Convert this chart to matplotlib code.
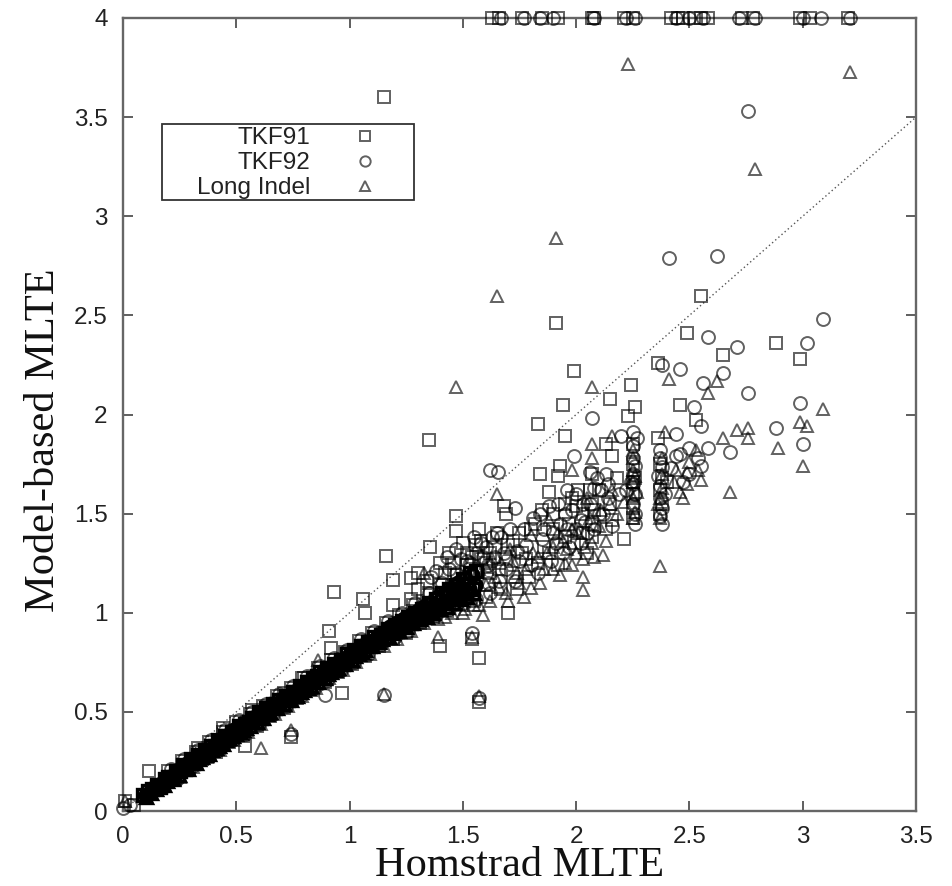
import matplotlib
matplotlib.use("Agg")
import matplotlib.pyplot as plt
from matplotlib.patches import Rectangle
import numpy as np

# values as (Homstrad MLTE, Model-based MLTE)
diag_x = [0, 3.5]
diag_y = [0, 3.5]

x_ticks = [0, 0.5, 1, 1.5, 2, 2.5, 3, 3.5]
x_labels = ["0", "0.5", "1", "1.5", "2", "2.5", "3", "3.5"]
y_ticks = [0, 0.5, 1, 1.5, 2, 2.5, 3, 3.5, 4]
y_labels = ["0", "0.5", "1", "1.5", "2", "2.5", "3", "3.5", "4"]

tkf91_top = [1.63, 1.66, 1.76, 1.85, 1.92, 2.07, 2.08, 2.21, 2.25, 2.42, 2.45, 2.47, 2.52, 2.55, 2.58, 2.73, 2.78, 2.99, 3.03, 3.2]
tkf92_top = [1.67, 1.77, 1.84, 1.9, 2.08, 2.22, 2.26, 2.44, 2.5, 2.56, 2.72, 2.79, 3.0, 3.08, 3.21]

tkf91 = [
    (0.01, 0.05), (0.05, 0.03), (0.115, 0.2), (0.33, 0.32), (0.44, 0.42), (0.54, 0.33), (0.57, 0.51), (0.71, 0.595),
    (0.74, 0.375), (0.79, 0.67), (0.91, 0.91), (0.92, 0.82), (0.965, 0.595), (0.93, 1.105), (1.06, 1.07), (1.07, 1.0),
    (1.16, 1.285), (1.19, 1.165), (1.19, 1.04), (1.27, 1.175), (1.27, 1.07), (1.355, 1.33), (1.35, 1.87), (1.15, 3.6),
    (1.57, 0.77), (1.57, 0.55), (1.54, 0.87), (1.4, 0.83), (1.47, 1.49), (1.47, 1.41), (1.57, 1.42), (1.65, 1.4),
    (1.69, 1.5), (1.68, 1.54), (1.84, 1.7), (1.93, 1.74), (1.92, 1.69), (1.88, 1.61), (2.0, 1.54), (2.08, 1.52),
    (2.16, 1.47), (2.03, 1.4), (2.21, 1.37), (1.83, 1.95), (1.95, 1.89), (1.94, 2.05), (1.91, 2.46), (1.99, 2.22),
    (2.13, 1.85), (2.16, 1.79), (2.15, 2.08), (2.24, 2.15), (2.26, 2.04), (2.23, 1.99), (2.36, 1.88), (2.36, 2.26),
    (2.46, 2.05), (2.49, 2.41), (2.53, 1.97), (2.55, 2.6), (2.65, 2.3), (2.88, 2.36), (2.99, 2.28), (1.7, 1.0),
    (1.6, 1.25), (1.62, 1.3), (1.66, 1.22), (1.7, 1.34), (1.72, 1.18), (1.75, 1.4), (1.78, 1.27), (1.82, 1.45),
    (1.86, 1.33), (1.9, 1.5), (1.95, 1.38), (1.98, 1.58), (2.06, 1.62), (2.07, 1.45), (2.25, 1.66), (2.25, 1.85),
    (2.25, 1.53), (2.37, 1.75), (2.38, 1.55), (2.4, 1.66), (1.3, 1.12), (1.34, 1.16), (1.42, 1.2), (1.46, 1.25),
    (1.52, 1.3), (1.56, 1.34),
]

tkf91_band = [
    (0.09, 0.08), (0.11, 0.10), (0.13, 0.11), (0.15, 0.13), (0.165, 0.12), (0.185, 0.16), (0.2, 0.17), (0.215, 0.17),
    (0.235, 0.2), (0.25, 0.2), (0.265, 0.23), (0.28, 0.22), (0.3, 0.26), (0.315, 0.25), (0.33, 0.28), (0.345, 0.27),
    (0.36, 0.31), (0.375, 0.3), (0.39, 0.33), (0.405, 0.33), (0.42, 0.36), (0.435, 0.35), (0.45, 0.38), (0.465, 0.38),
    (0.48, 0.4), (0.495, 0.4), (0.51, 0.43), (0.525, 0.42), (0.54, 0.44), (0.555, 0.45), (0.57, 0.47), (0.585, 0.47),
    (0.6, 0.5), (0.615, 0.49), (0.63, 0.52), (0.645, 0.51), (0.66, 0.54), (0.675, 0.54), (0.69, 0.56), (0.705, 0.56),
    (0.72, 0.58), (0.735, 0.57), (0.75, 0.6), (0.765, 0.6), (0.78, 0.63), (0.795, 0.62), (0.81, 0.65), (0.825, 0.65),
    (0.84, 0.67), (0.855, 0.68), (0.87, 0.7), (0.885, 0.69), (0.9, 0.72), (0.915, 0.72), (0.93, 0.74), (0.945, 0.73),
    (0.96, 0.76), (0.975, 0.76), (0.99, 0.79), (1.005, 0.78), (1.02, 0.81), (1.035, 0.8), (1.05, 0.83), (1.065, 0.83),
    (1.08, 0.85), (1.095, 0.84), (1.11, 0.88), (1.125, 0.87), (1.14, 0.89), (1.155, 0.9), (1.17, 0.92), (1.185, 0.91),
    (1.2, 0.94), (1.215, 0.93), (1.23, 0.96), (1.245, 0.94), (1.26, 0.98), (1.275, 0.96), (1.29, 1.0), (1.305, 0.97),
    (1.32, 1.02), (1.335, 1.0), (1.35, 1.05), (1.365, 1.02), (1.38, 1.07), (1.395, 1.03), (1.41, 1.1), (1.425, 1.05),
    (1.44, 1.12), (1.455, 1.07), (1.47, 1.14), (1.485, 1.09), (1.5, 1.17), (1.515, 1.1), (1.53, 1.2), (1.545, 1.12),
    (1.56, 1.21),
]

tkf91_cloud = [
    (0.2, 0.2), (0.23, 0.16), (0.26, 0.25), (0.29, 0.21), (0.32, 0.3), (0.35, 0.26), (0.38, 0.35), (0.41, 0.3),
    (0.44, 0.4), (0.47, 0.35), (0.5, 0.45), (0.53, 0.38), (0.56, 0.49), (0.59, 0.43), (0.62, 0.53), (0.65, 0.48),
    (0.68, 0.58), (0.71, 0.52), (0.74, 0.62), (0.77, 0.57), (0.8, 0.67), (0.83, 0.61), (0.86, 0.72), (0.89, 0.65),
    (0.92, 0.76), (0.95, 0.7), (0.98, 0.8), (1.01, 0.74), (1.04, 0.86), (1.07, 0.78), (1.1, 0.9), (1.13, 0.83),
    (1.16, 0.95), (1.19, 0.87), (1.22, 0.99), (1.25, 0.9), (1.28, 1.04), (1.31, 0.95), (1.34, 1.09), (1.37, 0.98),
    (1.4, 1.14), (1.43, 1.01), (1.46, 1.19), (1.49, 1.04), (1.52, 1.24), (1.55, 1.06), (1.58, 1.27), (1.6, 1.08),
    (1.3, 1.2), (1.4, 1.25), (1.44, 1.3), (1.5, 1.35), (1.54, 1.28), (1.58, 1.36), (1.62, 1.2), (1.64, 1.33),
    (1.67, 1.12), (1.69, 1.27), (1.72, 1.36), (1.74, 1.12), (1.76, 1.3), (1.79, 1.18), (1.8, 1.42), (1.83, 1.25),
    (1.85, 1.52), (1.88, 1.3), (1.9, 1.42), (1.92, 1.24), (1.95, 1.55), (1.97, 1.45), (1.99, 1.35), (2.01, 1.62),
    (2.03, 1.5), (2.05, 1.3), (2.07, 1.7), (2.07, 1.55), (2.07, 1.38), (2.1, 1.62), (2.13, 1.42), (2.15, 1.55),
    (2.18, 1.68), (2.25, 1.75), (2.25, 1.6), (2.25, 1.48), (2.26, 1.68), (2.37, 1.62), (2.37, 1.5), (2.38, 1.68),
]

tkf92 = [
    (0.0, 0.015), (0.03, 0.03), (0.74, 0.39), (0.89, 0.585), (1.15, 0.585), (1.38, 1.21), (1.49, 1.27), (1.54, 0.9),
    (1.57, 0.57), (1.58, 1.35), (1.62, 1.72), (1.655, 1.71), (1.61, 1.15), (1.64, 1.28), (1.67, 1.38), (1.69, 1.22),
    (1.73, 1.53), (1.74, 1.31), (1.77, 1.42), (1.8, 1.24), (1.84, 1.5), (1.85, 1.37), (1.88, 1.54), (1.93, 1.45),
    (1.96, 1.62), (1.99, 1.79), (2.0, 1.42), (2.03, 1.55), (2.06, 1.71), (2.07, 1.98), (2.08, 1.63), (2.1, 1.5),
    (2.13, 1.7), (2.14, 1.58), (2.2, 1.89), (2.22, 1.62), (2.25, 1.91), (2.25, 1.78), (2.25, 1.7), (2.26, 1.6),
    (2.27, 1.88), (2.26, 1.5), (2.37, 1.82), (2.38, 2.25), (2.38, 1.735), (2.37, 1.64), (2.38, 1.53), (2.37, 1.49),
    (2.41, 2.79), (2.44, 1.9), (2.44, 1.79), (2.46, 2.23), (2.47, 1.66), (2.5, 1.83), (2.52, 2.04), (2.55, 1.94),
    (2.56, 2.16), (2.54, 1.78), (2.58, 2.39), (2.58, 1.83), (2.62, 2.8), (2.65, 2.21), (2.68, 1.81), (2.71, 2.34),
    (2.76, 2.11), (2.76, 3.53), (2.88, 1.93), (2.99, 2.06), (3.0, 1.85), (3.02, 2.36), (3.09, 2.48), (1.9, 1.4),
    (1.92, 1.55), (1.95, 1.5), (1.97, 1.33), (2.02, 1.47), (2.05, 1.4), (2.11, 1.62), (2.24, 1.66), (2.26, 1.74),
    (2.25, 1.55), (2.36, 1.69), (2.39, 1.6), (1.44, 1.22), (1.52, 1.26), (1.56, 1.3), (1.6, 1.33), (1.65, 1.4),
]

tkf92_band = [
    (0.1, 0.08), (0.12, 0.09), (0.14, 0.12), (0.16, 0.13), (0.175, 0.14), (0.19, 0.15), (0.21, 0.17), (0.225, 0.18),
    (0.24, 0.2), (0.26, 0.21), (0.275, 0.23), (0.29, 0.24), (0.31, 0.25), (0.325, 0.27), (0.34, 0.28), (0.355, 0.29),
    (0.37, 0.31), (0.385, 0.31), (0.4, 0.33), (0.415, 0.34), (0.43, 0.36), (0.445, 0.36), (0.46, 0.38), (0.475, 0.39),
    (0.49, 0.41), (0.505, 0.41), (0.52, 0.42), (0.535, 0.43), (0.55, 0.45), (0.565, 0.45), (0.58, 0.47), (0.595, 0.47),
    (0.61, 0.49), (0.625, 0.5), (0.64, 0.52), (0.655, 0.52), (0.67, 0.54), (0.685, 0.54), (0.7, 0.56), (0.715, 0.57),
    (0.73, 0.58), (0.745, 0.58), (0.76, 0.6), (0.775, 0.61), (0.79, 0.62), (0.805, 0.63), (0.82, 0.65), (0.835, 0.65),
    (0.85, 0.67), (0.865, 0.68), (0.88, 0.69), (0.895, 0.7), (0.91, 0.72), (0.925, 0.72), (0.94, 0.74), (0.955, 0.74),
    (0.97, 0.76), (0.985, 0.77), (1.0, 0.78), (1.015, 0.79), (1.03, 0.81), (1.045, 0.81), (1.06, 0.83), (1.075, 0.83),
    (1.09, 0.85), (1.105, 0.86), (1.12, 0.87), (1.135, 0.88), (1.15, 0.9), (1.165, 0.9), (1.18, 0.93), (1.195, 0.92),
    (1.21, 0.95), (1.225, 0.94), (1.24, 0.97), (1.255, 0.96), (1.27, 0.99), (1.285, 0.97), (1.3, 1.01), (1.315, 0.99),
    (1.33, 1.03), (1.345, 1.01), (1.36, 1.05), (1.375, 1.03), (1.39, 1.08), (1.405, 1.04), (1.42, 1.1), (1.435, 1.06),
    (1.45, 1.12), (1.465, 1.08), (1.48, 1.15), (1.495, 1.1), (1.51, 1.17), (1.525, 1.12), (1.54, 1.19), (1.555, 1.14),
]

tkf92_cloud = [
    (0.21, 0.21), (0.24, 0.16), (0.27, 0.26), (0.3, 0.22), (0.33, 0.31), (0.36, 0.27), (0.39, 0.36), (0.42, 0.31),
    (0.45, 0.41), (0.48, 0.36), (0.51, 0.46), (0.54, 0.39), (0.57, 0.5), (0.6, 0.44), (0.63, 0.54), (0.66, 0.49),
    (0.69, 0.59), (0.72, 0.53), (0.75, 0.63), (0.78, 0.58), (0.81, 0.68), (0.84, 0.62), (0.87, 0.73), (0.9, 0.66),
    (0.93, 0.77), (0.96, 0.71), (0.99, 0.81), (1.02, 0.75), (1.05, 0.87), (1.08, 0.79), (1.11, 0.91), (1.14, 0.84),
    (1.17, 0.96), (1.2, 0.88), (1.23, 1.0), (1.26, 0.91), (1.29, 1.05), (1.32, 0.96), (1.35, 1.1), (1.38, 0.99),
    (1.41, 1.15), (1.44, 1.02), (1.47, 1.2), (1.5, 1.05), (1.53, 1.25), (1.56, 1.07), (1.59, 1.28), (1.62, 1.1),
    (1.36, 1.18), (1.43, 1.28), (1.47, 1.32), (1.55, 1.38), (1.61, 1.24), (1.63, 1.38), (1.66, 1.16), (1.68, 1.3),
    (1.71, 1.42), (1.73, 1.16), (1.75, 1.26), (1.78, 1.34), (1.81, 1.48), (1.83, 1.2), (1.86, 1.42), (1.89, 1.26),
    (1.91, 1.35), (1.94, 1.3), (1.96, 1.42), (1.98, 1.52), (2.0, 1.6), (2.02, 1.35), (2.04, 1.46), (2.06, 1.55),
    (2.08, 1.42), (2.09, 1.68), (2.12, 1.5), (2.14, 1.65), (2.16, 1.44), (2.19, 1.6), (2.25, 1.84), (2.25, 1.65),
    (2.26, 1.45), (2.37, 1.78), (2.37, 1.58), (2.38, 1.45), (2.42, 1.73), (2.46, 1.8), (2.5, 1.7), (2.55, 1.74),
]

long_indel = [
    (0.01, 0.05), (0.61, 0.32), (0.74, 0.41), (0.86, 0.76), (1.15, 0.59), (1.33, 1.2), (1.39, 0.88), (1.47, 2.14),
    (1.47, 1.05), (1.54, 0.88), (1.53, 1.09), (1.57, 0.58), (1.59, 0.99), (1.57, 1.22), (1.6, 1.14), (1.63, 1.27),
    (1.65, 1.6), (1.65, 2.6), (1.66, 1.13), (1.7, 1.06), (1.71, 1.32), (1.74, 1.2), (1.77, 1.08), (1.8, 1.125),
    (1.8, 1.39), (1.83, 1.28), (1.86, 1.22), (1.88, 1.47), (1.91, 2.89), (1.93, 1.19), (1.94, 1.36), (1.98, 1.72),
    (2.0, 1.3), (2.03, 1.27), (2.03, 1.18), (2.03, 1.115), (2.05, 1.58), (2.07, 1.35), (2.07, 1.85), (2.07, 1.78),
    (2.07, 2.14), (2.1, 1.44), (2.12, 1.29), (2.16, 1.89), (2.15, 1.55), (2.21, 1.56), (2.25, 1.66), (2.26, 1.51),
    (2.25, 1.72), (2.27, 1.61), (2.23, 3.77), (2.37, 1.235), (2.37, 1.48), (2.38, 1.63), (2.39, 1.91), (2.41, 2.18),
    (2.46, 1.61), (2.44, 1.72), (2.49, 1.71), (2.49, 1.65), (2.53, 1.82), (2.55, 1.67), (2.58, 2.11), (2.62, 2.17),
    (2.65, 1.88), (2.68, 1.61), (2.71, 1.92), (2.76, 1.93), (2.76, 1.88), (2.79, 3.24), (2.89, 1.83), (2.99, 1.96),
    (3.0, 1.74), (3.02, 1.94), (3.09, 2.03), (3.21, 3.73), (1.9, 1.33), (1.95, 1.25), (1.98, 1.42), (2.25, 1.58),
    (2.25, 1.78), (2.36, 1.55), (2.38, 1.7), (1.42, 0.98), (1.5, 1.0), (1.55, 1.04),
]

long_indel_band = [
    (0.1, 0.07), (0.125, 0.09), (0.145, 0.11), (0.165, 0.13), (0.18, 0.13), (0.195, 0.15), (0.22, 0.16), (0.23, 0.18),
    (0.245, 0.18), (0.27, 0.21), (0.285, 0.21), (0.305, 0.24), (0.32, 0.24), (0.335, 0.26), (0.35, 0.27), (0.365, 0.28),
    (0.38, 0.29), (0.395, 0.31), (0.41, 0.32), (0.425, 0.33), (0.44, 0.34), (0.455, 0.36), (0.47, 0.37), (0.485, 0.38),
    (0.5, 0.39), (0.515, 0.4), (0.53, 0.41), (0.545, 0.42), (0.56, 0.43), (0.575, 0.45), (0.59, 0.45), (0.605, 0.47),
    (0.62, 0.47), (0.635, 0.49), (0.65, 0.5), (0.665, 0.52), (0.68, 0.52), (0.695, 0.54), (0.71, 0.54), (0.725, 0.56),
    (0.74, 0.56), (0.755, 0.58), (0.77, 0.58), (0.785, 0.6), (0.8, 0.61), (0.815, 0.62), (0.83, 0.63), (0.845, 0.65),
    (0.86, 0.65), (0.875, 0.67), (0.89, 0.67), (0.905, 0.69), (0.92, 0.7), (0.935, 0.71), (0.95, 0.72), (0.965, 0.74),
    (0.98, 0.74), (0.995, 0.76), (1.01, 0.76), (1.025, 0.78), (1.04, 0.79), (1.055, 0.8), (1.07, 0.81), (1.085, 0.83),
    (1.1, 0.83), (1.115, 0.85), (1.13, 0.85), (1.145, 0.87), (1.16, 0.88), (1.175, 0.88), (1.19, 0.9), (1.205, 0.91),
    (1.22, 0.91), (1.235, 0.93), (1.25, 0.93), (1.265, 0.95), (1.28, 0.95), (1.295, 0.97), (1.31, 0.97), (1.325, 0.99),
    (1.34, 0.98), (1.355, 1.01), (1.37, 1.0), (1.385, 1.03), (1.4, 1.02), (1.415, 1.05), (1.43, 1.03), (1.445, 1.07),
    (1.46, 1.05), (1.475, 1.09), (1.49, 1.07), (1.505, 1.11), (1.52, 1.08), (1.535, 1.13), (1.55, 1.1),
]

long_indel_cloud = [
    (0.22, 0.19), (0.25, 0.17), (0.28, 0.25), (0.31, 0.22), (0.34, 0.3), (0.37, 0.27), (0.4, 0.35), (0.43, 0.31),
    (0.46, 0.4), (0.49, 0.36), (0.52, 0.45), (0.55, 0.4), (0.58, 0.49), (0.61, 0.44), (0.64, 0.53), (0.67, 0.49),
    (0.7, 0.58), (0.73, 0.53), (0.76, 0.62), (0.79, 0.58), (0.82, 0.67), (0.85, 0.62), (0.88, 0.72), (0.91, 0.67),
    (0.94, 0.76), (0.97, 0.71), (1.0, 0.8), (1.03, 0.75), (1.06, 0.85), (1.09, 0.79), (1.12, 0.9), (1.15, 0.83),
    (1.18, 0.94), (1.21, 0.87), (1.24, 0.98), (1.27, 0.91), (1.3, 1.03), (1.33, 0.95), (1.36, 1.07), (1.39, 0.97),
    (1.42, 1.12), (1.45, 1.0), (1.48, 1.16), (1.51, 1.02), (1.54, 1.2), (1.57, 1.04), (1.6, 1.23), (1.62, 1.06),
    (1.64, 1.18), (1.67, 1.25), (1.69, 1.1), (1.72, 1.26), (1.75, 1.15), (1.78, 1.22), (1.81, 1.3), (1.84, 1.15),
    (1.87, 1.3), (1.9, 1.22), (1.92, 1.4), (1.96, 1.32), (1.98, 1.24), (2.01, 1.4), (2.04, 1.33), (2.06, 1.48),
    (2.08, 1.28), (2.11, 1.52), (2.13, 1.36), (2.16, 1.62), (2.18, 1.5), (2.25, 1.48), (2.25, 1.82), (2.26, 1.69),
    (2.37, 1.58), (2.38, 1.78), (2.43, 1.66), (2.47, 1.58), (2.5, 1.76), (2.54, 1.72),
]

EDGE = (0, 0, 0, 0.62)

fig = plt.figure(figsize=(9.53, 8.86), dpi=100)
ax = fig.add_axes([123 / 953, 1 - 811 / 886, 793 / 953, 793 / 886])


def draw(points, band, cloud, top, marker, size, label):
    pts = points + cloud
    x = [p[0] for p in pts] + top
    y = [p[1] for p in pts] + [4.0] * len(top)
    line, = ax.plot(x, y, linestyle="none", marker=marker, markersize=size, markerfacecolor="none",
                    markeredgecolor=EDGE, markeredgewidth=1.4, clip_on=False, label=label, zorder=3)
    # the crowded band prints solid black in the original, so heavier edges here
    ax.plot([p[0] for p in band], [p[1] for p in band], linestyle="none", marker=marker, markersize=size,
            markerfacecolor="none", markeredgecolor="black", markeredgewidth=2.4, zorder=3)
    return line


ax.plot(diag_x, diag_y, color="#555555", linestyle=(0, (1, 2)), linewidth=1.0, zorder=2)
h1 = draw(tkf91, tkf91_band, tkf91_cloud, tkf91_top, "s", 8.8, "TKF91")
h2 = draw(tkf92, tkf92_band, tkf92_cloud, tkf92_top, "o", 9.3, "TKF92")
h3 = draw(long_indel, long_indel_band, long_indel_cloud, [], "^", 8.3, "Long Indel")

ax.set_xlim(0, 3.5)
ax.set_ylim(0, 4)
ax.set_xticks(x_ticks)
ax.set_xticklabels(x_labels)
ax.set_yticks(y_ticks)
ax.set_yticklabels(y_labels)
ax.tick_params(axis="both", direction="in", length=7.5, width=1.1, color="#333333", top=True, right=True,
               labelsize=17.5, labelcolor="#222222")
ax.tick_params(axis="x", pad=11)
ax.tick_params(axis="y", pad=11)
for s in ax.spines.values():
    s.set_color("#666666")
    s.set_linewidth(1.7)

ax.set_xlabel("Homstrad MLTE", family="Liberation Serif", fontsize=30.5, color="#111111", labelpad=-1.5)
ax.set_ylabel("Model-based MLTE", family="Liberation Serif", fontsize=30.5, color="#111111", y=0.467, labelpad=8)
for t in ax.get_xticklabels() + ax.get_yticklabels():
    t.set_family("Liberation Sans")

# key box, gnuplot style: labels right aligned, marker on the right
fig.add_artist(Rectangle((162 / 953, 1 - 200 / 886), 252 / 953, 76 / 886, transform=fig.transFigure,
                         fill=False, edgecolor="#333333", linewidth=1.3))
leg = ax.legend(handles=[h1, h2, h3], loc="upper left", bbox_to_anchor=(197 / 953, 1 - 127 / 886),
                bbox_transform=fig.transFigure, frameon=False, markerfirst=False, borderpad=0, borderaxespad=0,
                prop={"family": "Liberation Sans", "size": 17.5}, labelspacing=0.13, handlelength=1.5,
                handletextpad=1.5, markerscale=0.8)
for t in leg.get_texts():
    t.set_color("#222222")

fig.savefig("out.png", dpi=100)
